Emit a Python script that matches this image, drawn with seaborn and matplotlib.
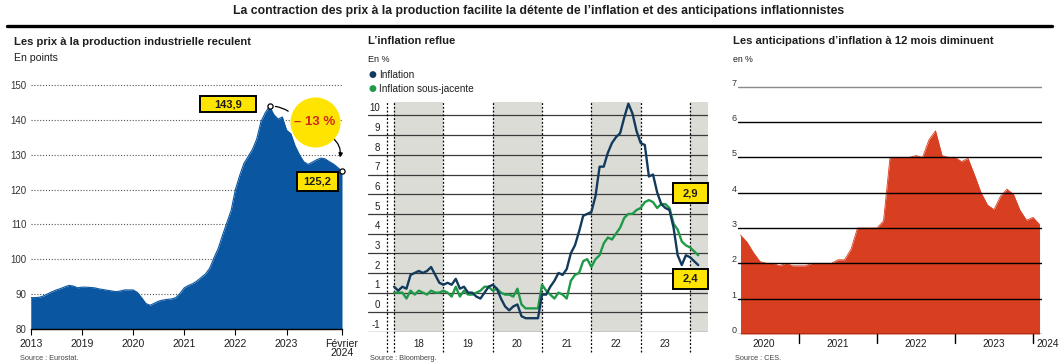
import numpy as np
import pandas as pd
import matplotlib
matplotlib.use("Agg")
import matplotlib.pyplot as plt
import seaborn as sns
from matplotlib import font_manager as fm
from matplotlib.transforms import blended_transform_factory as blended
from matplotlib.patches import Rectangle, FancyArrowPatch
from matplotlib.lines import Line2D

# ---------------- data ----------------
# Panel 1: industrial producer prices (points), monthly Jan 2018 -> Feb 2024
ppi_start_year = 2018
ppi_values = [
    89.0, 89.0, 89.1, 89.5, 90.1, 90.7, 91.2, 91.6, 92.1, 92.5, 92.3, 91.8,
    92.0, 92.0, 91.9, 91.8, 91.5, 91.3, 91.1, 90.9, 90.7, 90.9, 91.2, 91.2,
    91.2, 90.5, 89.0, 87.3, 86.8, 87.4, 88.0, 88.3, 88.5, 88.6, 89.0, 90.2,
    91.8, 92.5, 93.0, 93.8, 94.8, 95.8, 97.5, 100.5, 103.2, 107.0, 110.5, 114.0,
    120.0, 124.0, 127.5, 129.5, 131.5, 134.5, 139.5, 142.0, 143.9, 141.5, 140.2, 140.8,
    137.0, 136.0, 132.5, 130.0, 128.0, 127.2, 127.8, 128.5, 129.0, 128.8, 128.0, 127.3,
    126.3, 125.2,
]
ppi_tick_labels = ["2013", "2019", "2020", "2021", "2022", "2023", "Février\n2024"]
ppi_yticks = [80, 90, 100, 110, 120, 130, 140, 150]
ppi_peak_label = "143,9"
ppi_last_label = "125,2"
ppi_change_label = "– 13 %"

# Panel 2: inflation (%), monthly Jan 2018 -> Mar 2024
infl_start_year = 2018
infl_headline = [
    1.3, 1.1, 1.3, 1.2, 1.9, 2.0, 2.1, 2.0, 2.1, 2.3, 1.9, 1.5,
    1.4, 1.5, 1.4, 1.7, 1.2, 1.3, 1.0, 1.0, 0.8, 0.7, 1.0, 1.3,
    1.4, 1.2, 0.7, 0.3, 0.1, 0.3, 0.4, -0.2, -0.3, -0.3, -0.3, -0.3,
    0.9, 0.9, 1.3, 1.6, 2.0, 1.9, 2.2, 3.0, 3.4, 4.1, 4.9, 5.0,
    5.1, 5.9, 7.4, 7.4, 8.1, 8.6, 8.9, 9.1, 9.9, 10.6, 10.1, 9.2,
    8.6, 8.5, 6.9, 7.0, 6.1, 5.5, 5.3, 5.2, 4.3, 2.9, 2.4, 2.9,
    2.8, 2.6, 2.4,
]
infl_core = [
    1.0, 1.0, 1.0, 0.7, 1.1, 0.9, 1.1, 1.0, 0.9, 1.1, 1.0, 1.0,
    1.1, 1.0, 0.8, 1.3, 0.8, 1.1, 0.9, 0.9, 1.0, 1.1, 1.3, 1.3,
    1.1, 1.2, 1.0, 0.9, 0.9, 0.8, 1.2, 0.4, 0.2, 0.2, 0.2, 0.2,
    1.4, 1.1, 0.9, 0.7, 1.0, 0.9, 0.7, 1.6, 1.9, 2.0, 2.6, 2.7,
    2.3, 2.7, 2.9, 3.5, 3.8, 3.7, 4.0, 4.3, 4.8, 5.0, 5.0, 5.2,
    5.3, 5.6, 5.7, 5.6, 5.3, 5.5, 5.5, 5.3, 4.5, 4.2, 3.6, 3.4,
    3.3, 3.1, 2.9,
]
infl_year_labels = ["18", "19", "20", "21", "22", "23"]
infl_yticks = list(range(-1, 11))
infl_core_label = "2,9"
infl_headline_label = "2,4"

# Panel 3: 12-month inflation expectations (%), monthly Apr 2020 -> Feb 2024
ces_start = 2020.25
ces_values = [
    2.8, 2.6, 2.3, 2.05, 2.0, 2.0, 1.93, 2.0, 1.93,
    1.93, 1.93, 2.0, 2.0, 2.0, 2.0, 2.1, 2.1, 2.4, 3.0, 3.0, 3.0,
    3.0, 3.2, 5.0, 5.0, 5.0, 5.0, 5.05, 5.0, 5.5, 5.75, 5.05, 5.0,
    5.0, 4.88, 4.97, 4.5, 4.0, 3.65, 3.52, 3.9, 4.1, 3.95, 3.5, 3.22,
    3.3, 3.1,
]
ces_year_labels = ["2020", "2021", "2022", "2023", "2024"]
ces_yticks = [0, 1, 2, 3, 4, 5, 6, 7]

# ---------------- style ----------------
sns.set_theme(style="white")
names = {f.name for f in fm.fontManager.ttflist}
FONT = "Liberation Sans Narrow" if "Liberation Sans Narrow" in names else "Liberation Sans"
plt.rcParams["font.family"] = [FONT, "DejaVu Sans"]

BLUE = "#0a56a0"
NAVY = "#123a5c"
GREEN = "#1f9a48"
RED = "#d83e20"
YELLOW = "#ffe400"
SHADE = "#dcdcd7"
TXT = "#1e1e1e"

W, H = 1059, 364
fig = plt.figure(figsize=(W / 100, H / 100), dpi=100)
fig.patch.set_facecolor("white")


def fx(p):
    return p / W


def fy(p):
    return 1 - p / H


def box(l, t, r, b):
    return [fx(l), fy(b), (r - l) / W, (b - t) / H]


fig.text(fx(539), fy(11),
         "La contraction des prix à la production facilite la détente de l’inflation et des anticipations inflationnistes",
         ha="center", va="center", fontsize=8.8, fontweight="bold", color=TXT)
fig.add_artist(Line2D([fx(7), fx(1052)], [fy(26), fy(26)], color="black", lw=2.4))

SUB = 8.1

# ================= Panel 1 =================
fig.text(fx(14), fy(42), "Les prix à la production industrielle reculent",
         ha="left", va="center", fontsize=SUB, fontweight="bold", color=TXT)
fig.text(fx(14), fy(58), "En points", ha="left", va="center", fontsize=7.6, color=TXT)
fig.text(fx(20), fy(359), "Source : Eurostat.", ha="left", va="center", fontsize=5.3, color="#444")

ax1 = fig.add_axes(box(30.75, 80, 342, 329))
x1 = ppi_start_year + np.arange(len(ppi_values)) / 12
df1 = pd.DataFrame({"x": x1, "v": ppi_values})
ax1.fill_between(df1["x"], ppi_yticks[0], df1["v"], color=BLUE, lw=0, zorder=2)
sns.lineplot(data=df1, x="x", y="v", ax=ax1, color=BLUE, lw=0.8, zorder=2)
ax1.set_xlim(x1[0], x1[-1])
ax1.set_ylim(ppi_yticks[0], 151.4)
for v in ppi_yticks[1:]:
    ax1.axhline(v, color="#555555", lw=0.8, ls=(0, (1, 1.6)), zorder=1)
for s in ["top", "left", "right"]:
    ax1.spines[s].set_visible(False)
ax1.spines["bottom"].set_color("black")
ax1.spines["bottom"].set_linewidth(1.0)
ax1.set_xticks(list(range(ppi_start_year, ppi_start_year + 6)) + [x1[-1]])
ax1.set_xticklabels(ppi_tick_labels, fontsize=7.6, color=TXT, linespacing=0.95)
ax1.set_yticks(ppi_yticks)
ax1.set_yticklabels([str(v) for v in ppi_yticks], fontsize=7, color="#333")
ax1.tick_params(axis="x", bottom=True, direction="out", length=4, width=0.8, color="black", pad=3)
ax1.tick_params(axis="y", left=False, length=0, pad=3)
ax1.set_xlabel("")
ax1.set_ylabel("")
ax1.grid(False)

pk = int(np.argmax(ppi_values))
px_, py_ = x1[pk], ppi_values[pk]
lx, ly = x1[-1], ppi_values[-1]
ax1.scatter([px_, lx], [py_, ly], s=14, facecolor="white", edgecolor="black", lw=0.9, zorder=7, clip_on=False)
ax1.add_patch(Rectangle((px_ - 1.35, py_ - 1.7), 1.09, 4.6, fc=YELLOW, ec="black", lw=1.4, zorder=6))
ax1.text(px_ - 0.805, py_ + 0.6, ppi_peak_label, ha="center", va="center", fontsize=8, fontweight="bold", color=TXT, zorder=7)
cx, cy = px_ + 0.88, py_ - 4.5
ax1.scatter([cx], [cy], s=1300, color=YELLOW, lw=0, zorder=5, clip_on=False)
ax1.text(cx, cy, ppi_change_label, ha="center", va="center", fontsize=9.5, fontweight="bold", color="#d42a1a", zorder=6)
ax1.add_patch(FancyArrowPatch((px_ + 0.06, py_), (cx - 0.47, cy + 2.6), connectionstyle="arc3,rad=-0.15",
                              arrowstyle="-", lw=0.9, color="black", zorder=4))
ax1.add_patch(FancyArrowPatch((cx + 0.3, cy - 4.0), (lx - 0.05, ly + 3.2), connectionstyle="arc3,rad=-0.35",
                              arrowstyle="-|>", mutation_scale=6, lw=0.9, color="black", zorder=4, clip_on=False))
ax1.add_patch(Rectangle((lx - 0.883, ly - 5.6), 0.8, 5.4, fc=YELLOW, ec="black", lw=1.4, zorder=6))
ax1.text(lx - 0.483, ly - 2.9, ppi_last_label, ha="center", va="center", fontsize=8, fontweight="bold", color=TXT, zorder=7)

# ================= Panel 2 =================
fig.text(fx(368), fy(41), "L’inflation reflue", ha="left", va="center", fontsize=SUB, fontweight="bold", color=TXT)
fig.text(fx(368), fy(59), "En %", ha="left", va="center", fontsize=6.5, color=TXT)
fig.text(fx(372), fy(75), "●", ha="center", va="center", fontsize=6.5, color=NAVY, family="DejaVu Sans")
fig.text(fx(379), fy(75), "Inflation", ha="left", va="center", fontsize=7.2, color=TXT)
fig.text(fx(372), fy(89), "●", ha="center", va="center", fontsize=6.5, color=GREEN, family="DejaVu Sans")
fig.text(fx(379), fy(89), "Inflation sous-jacente", ha="left", va="center", fontsize=7.2, color=TXT)
fig.text(fx(370), fy(358), "Source : Bloomberg.", ha="left", va="center", fontsize=5.3, color="#444")

ax2 = fig.add_axes(box(368, 101.7, 708, 332))
x2 = infl_start_year + np.arange(len(infl_headline)) / 12
XR = 2024.365
ax2.set_xlim(2017.47, XR)
ax2.set_ylim(infl_yticks[0], 10.7)
for y0 in range(infl_start_year, 2025, 2):
    ax2.axvspan(y0, min(y0 + 1, XR), color=SHADE, lw=0, zorder=0)
for v in infl_yticks:
    ax2.axhline(v, color="#3a3a3a", lw=0.9, zorder=1)
trx = blended(ax2.transData, ax2.transAxes)
try_ = blended(ax2.transAxes, ax2.transData)
for xv in [2017.86] + list(range(infl_start_year, 2025)):
    ax2.plot([xv, xv], [-0.087, 1], transform=trx, color="black", lw=0.9,
             ls=(0, (1.5, 1.5)), clip_on=False, zorder=2)
df2 = pd.DataFrame({"x": x2, "head": infl_headline, "core": infl_core})
sns.lineplot(data=df2, x="x", y="core", ax=ax2, color=GREEN, lw=1.7, zorder=4)
sns.lineplot(data=df2, x="x", y="head", ax=ax2, color=NAVY, lw=1.7, zorder=5)
for s in ax2.spines.values():
    s.set_visible(False)
ax2.set_xticks([])
ax2.set_yticks([])
ax2.set_xlabel("")
ax2.set_ylabel("")
for i, lab in enumerate(infl_year_labels):
    ax2.text(infl_start_year + i + 0.5, -0.052, lab, transform=trx, ha="center", va="center", fontsize=7, color=TXT)
for v in infl_yticks:
    ax2.text(0.035, v + 0.37, str(v), transform=try_, ha="right", va="center", fontsize=7, color=TXT)
ax2.add_patch(Rectangle((0.897, infl_core[-1] + 2.63), 0.103, 1.06, transform=try_, fc=YELLOW, ec="black",
                        lw=1.4, clip_on=False, zorder=7))
ax2.text(0.9485, infl_core[-1] + 3.16, infl_core_label, transform=try_, ha="center", va="center",
         fontsize=8, fontweight="bold", color=TXT, zorder=8)
ax2.add_patch(Rectangle((0.897, infl_headline[-1] - 1.23), 0.103, 1.05, transform=try_, fc=YELLOW, ec="black",
                        lw=1.4, clip_on=False, zorder=7))
ax2.text(0.9485, infl_headline[-1] - 0.705, infl_headline_label, transform=try_, ha="center", va="center",
         fontsize=8, fontweight="bold", color=TXT, zorder=8)

# ================= Panel 3 =================
fig.text(fx(733), fy(41), "Les anticipations d’inflation à 12 mois diminuent", ha="left", va="center",
         fontsize=SUB, fontweight="bold", color=TXT)
fig.text(fx(733), fy(59), "en %", ha="left", va="center", fontsize=6.3, color=TXT)
fig.text(fx(735), fy(358), "Source : CES.", ha="left", va="center", fontsize=5.3, color="#444")

ax3 = fig.add_axes(box(738, 80, 1042, 334))
x3 = ces_start + np.arange(len(ces_values)) / 12
ax3.set_xlim(2020.218, 2024.115)
ax3.set_ylim(ces_yticks[0], 7.19)
df3 = pd.DataFrame({"x": x3, "v": ces_values})
ax3.fill_between(df3["x"], 0, df3["v"], color=RED, lw=0, zorder=1)
sns.lineplot(data=df3, x="x", y="v", ax=ax3, color=RED, lw=0.6, zorder=1)
for v in ces_yticks:
    ax3.axhline(v, color="#8a8a8a" if v == ces_yticks[-1] else "black", lw=1.0, zorder=3)
for s in ax3.spines.values():
    s.set_visible(False)
ax3.set_xticks([])
ax3.set_yticks([])
ax3.set_xlabel("")
ax3.set_ylabel("")
tr3x = blended(ax3.transData, ax3.transAxes)
tr3y = blended(ax3.transAxes, ax3.transData)
for yr in range(2021, 2025):
    ax3.plot([yr, yr], [-0.035, 0], transform=tr3x, color="black", lw=1.0, clip_on=False, zorder=3)
for i, lab in enumerate(ces_year_labels):
    if i == 0:
        ax3.text(2020.55, -0.04, lab, transform=tr3x, ha="center", va="center", fontsize=7.3, color=TXT)
    elif i == len(ces_year_labels) - 1:
        ax3.text(2020 + i + 0.04, -0.04, lab, transform=tr3x, ha="left", va="center", fontsize=7.3, color=TXT)
    else:
        ax3.text(2020 + i + 0.5, -0.04, lab, transform=tr3x, ha="center", va="center", fontsize=7.3, color=TXT)
for v in ces_yticks:
    ax3.text(-0.004, v + 0.1, str(v), transform=tr3y, ha="right", va="center", fontsize=6.5, color="#333")

fig.savefig("out.png", dpi=100, facecolor="white")
